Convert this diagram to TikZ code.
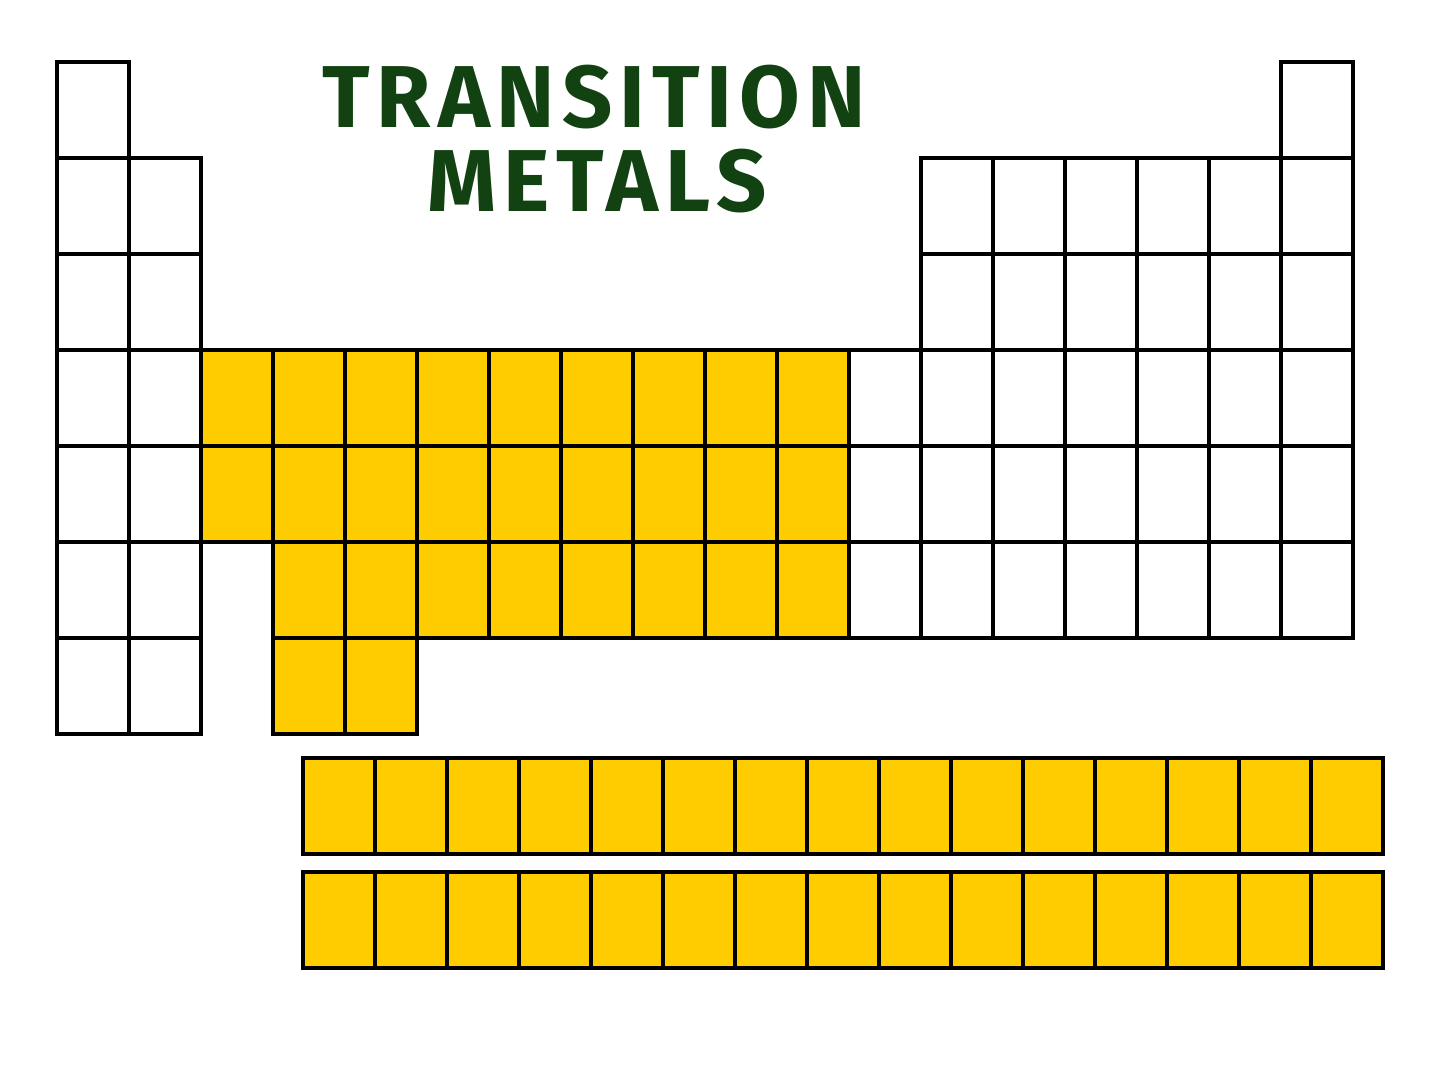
\documentclass[tikz,border=0pt]{standalone}
\usepackage{fontspec}
\newfontfamily\titlefont{Fira Sans}[LetterSpace=8]
\usepackage{xcolor}
\definecolor{metalyellow}{RGB}{255,204,0}
\definecolor{chalkgreen}{RGB}{18,66,18}
\usepackage{tikz}
\newcommand{\widthcell}{0.72cm}
\newcommand{\heightcell}{0.96cm}
\tikzset{
    cell/.style={anchor=north west, draw, rectangle, line width=0.04cm, inner sep=0pt, outer sep=0pt,
        minimum width=\widthcell, minimum height=\heightcell, fill=white},
    metal/.style={cell, fill=metalyellow},
    heading/.style={text=chalkgreen, font=\titlefont\bfseries\fontsize{25}{25}\selectfont, inner sep=0pt}
}
\begin{document}
\begin{tikzpicture}[x=0.01cm, y=-0.01cm]
      \useasboundingbox (0,0) rectangle (1440,1080);

      % title
      \node[heading] (title-top) at (594,97) {TRANSITION};
      \node[heading] (title-bottom) at (597,181) {METALS};

      % groups 1 and 2
      \foreach \r in {1,...,7}
          \node[cell] (c1-\r) at (57,62+96*\r-96) {};
      \foreach \r in {2,...,7}
          \node[cell] (c2-\r) at (129,62+96*\r-96) {};

      % transition block
      \foreach \r in {4,5}
          \node[metal] (c3-\r) at (201,62+96*\r-96) {};
      \foreach \c in {4,...,11}
          \foreach \r in {4,5,6}
              \node[metal] (c\c-\r) at (57+72*\c-72,62+96*\r-96) {};
      \foreach \c in {4,5}
          \node[metal] (c\c-7) at (57+72*\c-72,638) {};

      % groups 12 to 18
      \foreach \r in {4,5,6}
          \node[cell] (c12-\r) at (849,62+96*\r-96) {};
      \foreach \c in {13,...,17}
          \foreach \r in {2,...,6}
              \node[cell] (c\c-\r) at (57+72*\c-72,62+96*\r-96) {};
      \foreach \r in {1,...,6}
          \node[cell] (c18-\r) at (1281,62+96*\r-96) {};

      % lanthanides and actinides
      \foreach \i in {1,...,15} {
          \node[metal] (lan-\i) at (303+72*\i-72,758) {};
          \node[metal] (act-\i) at (303+72*\i-72,872) {};
      }
    \end{tikzpicture}
\end{document}
